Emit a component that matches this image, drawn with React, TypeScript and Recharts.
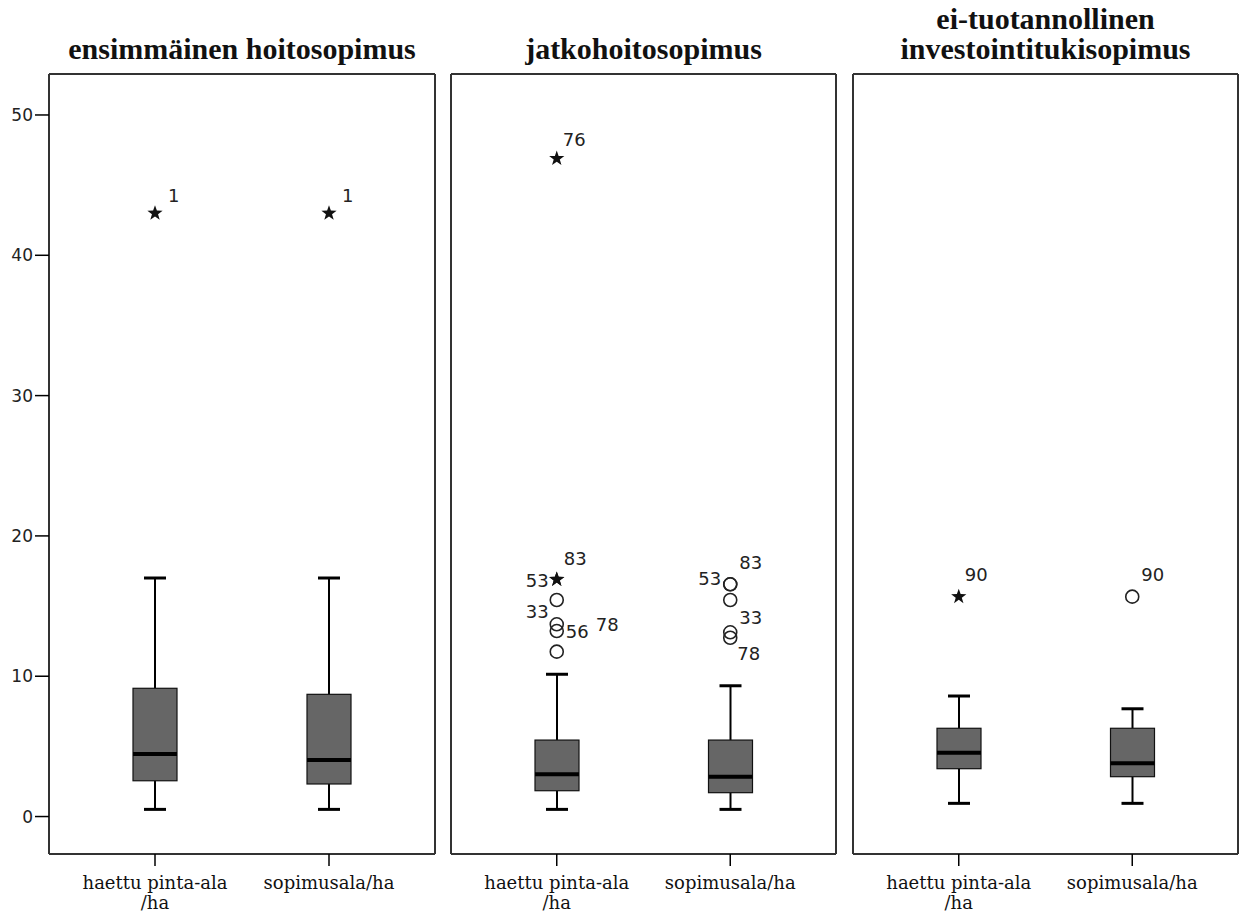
import React from "react";
import { ComposedChart, Bar, Scatter, XAxis, YAxis } from "recharts";

// ---- data ----
const panelTitles = [
  ["ensimmäinen hoitosopimus"],
  ["jatkohoitosopimus"],
  ["ei-tuotannollinen", "investointitukisopimus"],
];
const categories = ["haettu", "sopimus"];
const categoryLabels: Record<string, string[]> = {
  haettu: ["haettu pinta-ala", "/ha"],
  sopimus: ["sopimusala/ha"],
};
const yTicks = [0, 10, 20, 30, 40, 50];

// per panel, per category
const whiskerLow = [[0.51, 0.51], [0.51, 0.51], [0.94, 0.94]];
const quartile1 = [[2.55, 2.32], [1.84, 1.7], [3.41, 2.84]];
const median = [[4.45, 4.03], [3.01, 2.84], [4.55, 3.79]];
const quartile3 = [[9.14, 8.71], [5.45, 5.45], [6.29, 6.29]];
const whiskerHigh = [[17.0, 17.0], [10.14, 9.32], [8.59, 7.68]];

type Outlier = { cat: string; value: number; caseId: string; extreme: boolean };

const outliersFirst: Outlier[] = [
  { cat: "haettu", value: 43.0, caseId: "1", extreme: true },
  { cat: "sopimus", value: 43.0, caseId: "1", extreme: true },
];
const outliersJatko: Outlier[] = [
  { cat: "haettu", value: 46.9, caseId: "76", extreme: true },
  { cat: "haettu", value: 16.9, caseId: "83", extreme: true },
  { cat: "haettu", value: 16.9, caseId: "53", extreme: true },
  { cat: "haettu", value: 15.43, caseId: "33", extreme: false },
  { cat: "haettu", value: 13.7, caseId: "78", extreme: false },
  { cat: "haettu", value: 13.22, caseId: "56", extreme: false },
  { cat: "haettu", value: 11.75, caseId: "", extreme: false },
  { cat: "sopimus", value: 16.55, caseId: "83", extreme: false },
  { cat: "sopimus", value: 16.55, caseId: "53", extreme: false },
  { cat: "sopimus", value: 15.43, caseId: "33", extreme: false },
  { cat: "sopimus", value: 13.13, caseId: "", extreme: false },
  { cat: "sopimus", value: 12.74, caseId: "78", extreme: false },
];
const outliersInvest: Outlier[] = [
  { cat: "haettu", value: 15.67, caseId: "90", extreme: true },
  { cat: "sopimus", value: 15.67, caseId: "90", extreme: false },
];
const outliers = [outliersFirst, outliersJatko, outliersInvest];

// ---- styling / layout ----
const Y_DOMAIN: [number, number] = [-2.67, 52.92];
const FRAME = "#333";
const BOX_FILL = "#666666";

// label placement next to each outlier (dx, dy, anchor)
const labelOffsets: Record<string, [number, number, "start" | "end"]> = {
  "0:haettu:1": [13, -18, "start"],
  "0:sopimus:1": [13, -18, "start"],
  "1:haettu:76": [6, -19, "start"],
  "1:haettu:83": [7, -21, "start"],
  "1:haettu:53": [-8, 1, "end"],
  "1:haettu:33": [-8, 11, "end"],
  "1:haettu:78": [39, 0, "start"],
  "1:haettu:56": [9, 0, "start"],
  "1:sopimus:83": [9, -22, "start"],
  "1:sopimus:53": [-9, -6, "end"],
  "1:sopimus:33": [9, 17, "start"],
  "1:sopimus:78": [7, 16, "start"],
  "2:haettu:90": [6, -22, "start"],
  "2:sopimus:90": [9, -22, "start"],
};

const panels = [
  { left: 0, width: 445, yAxisWidth: 49, right: 9, center: 242 },
  { left: 441, width: 404, yAxisWidth: 10, right: 8, center: 643.5 },
  { left: 843, width: 403, yAxisWidth: 10, right: 7, center: 1045.5 },
];

const BoxShape = (props: any) => {
  const { x, y, width, height, payload } = props;
  const top = Math.min(y, y + height);
  const bot = Math.max(y, y + height);
  const px = (v: number) =>
    top + ((bot - top) * (payload.high - v)) / (payload.high - payload.low);
  const cx = x + width / 2;
  const cap = 11;
  return (
    <g>
      <line x1={cx} x2={cx} y1={px(payload.high)} y2={px(payload.q3)} stroke="#000" strokeWidth={2} />
      <line x1={cx} x2={cx} y1={px(payload.q1)} y2={px(payload.low)} stroke="#000" strokeWidth={2} />
      <line x1={cx - cap} x2={cx + cap} y1={px(payload.high)} y2={px(payload.high)} stroke="#000" strokeWidth={3} />
      <line x1={cx - cap} x2={cx + cap} y1={px(payload.low)} y2={px(payload.low)} stroke="#000" strokeWidth={3} />
      <rect
        x={x}
        y={px(payload.q3)}
        width={width}
        height={px(payload.q1) - px(payload.q3)}
        fill={BOX_FILL}
        stroke="#111"
        strokeWidth={1.2}
      />
      <line x1={x} x2={x + width} y1={px(payload.med)} y2={px(payload.med)} stroke="#000" strokeWidth={4} />
    </g>
  );
};

const starPoints = (cx: number, cy: number, ro: number, ri: number) => {
  const pts: string[] = [];
  for (let i = 0; i < 10; i++) {
    const r = i % 2 === 0 ? ro : ri;
    const a = -Math.PI / 2 + (i * Math.PI) / 5;
    pts.push(`${cx + r * Math.cos(a)},${cy + r * Math.sin(a)}`);
  }
  return pts.join(" ");
};

const makeOutlierShape = (panelIndex: number) => (props: any) => {
  const { cx, cy, payload } = props;
  const off = labelOffsets[`${panelIndex}:${payload.cat}:${payload.caseId}`];
  return (
    <g>
      {payload.extreme ? (
        <polygon points={starPoints(cx, cy, 8, 3.2)} fill="#111" />
      ) : (
        <circle cx={cx} cy={cy} r={6.5} fill="none" stroke="#222" strokeWidth={1.6} />
      )}
      {payload.caseId && off ? (
        <text
          x={cx + off[0]}
          y={cy + off[1]}
          textAnchor={off[2]}
          dominantBaseline="central"
          fontFamily="DejaVu Sans"
          fontSize={18}
          fill="#222"
        >
          {payload.caseId}
        </text>
      ) : null}
    </g>
  );
};

const CategoryTick = (props: any) => {
  const { x, y, payload } = props;
  const lines = categoryLabels[payload.value] || [String(payload.value)];
  return (
    <g>
      {lines.map((t, i) => (
        <text
          key={i}
          x={x}
          y={y + 21 + i * 20}
          textAnchor="middle"
          fontFamily="DejaVu Serif"
          fontSize={18}
          fill="#111"
        >
          {t}
        </text>
      ))}
    </g>
  );
};

function Panel({ index }: { index: number }) {
  const p = panels[index];
  const data = categories.map((cat, c) => ({
    cat,
    low: whiskerLow[index][c],
    q1: quartile1[index][c],
    med: median[index][c],
    q3: quartile3[index][c],
    high: whiskerHigh[index][c],
  }));
  return (
    <div style={{ position: "absolute", left: p.left, top: 0 }}>
      <ComposedChart
        width={p.width}
        height={914}
        data={data}
        margin={{ top: 73, right: p.right, bottom: 0, left: 0 }}
      >
        <XAxis
          dataKey="cat"
          type="category"
          allowDuplicatedCategory={false}
          padding={{ left: 19, right: 19 }}
          height={60}
          axisLine={{ stroke: FRAME, strokeWidth: 2 }}
          tickLine={{ stroke: "#000", strokeWidth: 1.5 }}
          tickSize={12}
          tickMargin={2}
          tick={<CategoryTick />}
          interval={0}
        />
        <XAxis
          xAxisId="top"
          dataKey="cat"
          orientation="top"
          height={1}
          tick={false}
          tickLine={false}
          axisLine={{ stroke: FRAME, strokeWidth: 2 }}
        />
        <YAxis
          type="number"
          domain={Y_DOMAIN}
          allowDataOverflow
          ticks={index === 0 ? yTicks : []}
          width={p.yAxisWidth}
          axisLine={{ stroke: FRAME, strokeWidth: 2 }}
          tickLine={index === 0 ? { stroke: "#000", strokeWidth: 1.5 } : false}
          tick={
            index === 0
              ? { fontFamily: "DejaVu Sans", fontSize: 17, fill: "#222" }
              : false
          }
          tickSize={14}
          tickMargin={2}
        />
        <YAxis
          yAxisId="right"
          orientation="right"
          type="number"
          domain={Y_DOMAIN}
          allowDataOverflow
          width={1}
          tick={false}
          tickLine={false}
          axisLine={{ stroke: FRAME, strokeWidth: 2 }}
        />
        <Bar
          dataKey={(d: any) => [d.low, d.high]}
          barSize={44}
          shape={BoxShape}
          isAnimationActive={false}
        />
        <Scatter
          data={outliers[index]}
          dataKey="value"
          shape={makeOutlierShape(index)}
          isAnimationActive={false}
        />
      </ComposedChart>
    </div>
  );
}

export default function App() {
  return (
    <div
      style={{
        position: "absolute",
        left: 0,
        top: 0,
        width: 1246,
        height: 914,
        background: "#fff",
      }}
    >
      {panels.map((_, i) => (
        <Panel key={i} index={i} />
      ))}
      <svg
        width={1246}
        height={914}
        style={{ position: "absolute", left: 0, top: 0, pointerEvents: "none" }}
      >
        {panelTitles.map((lines, i) =>
          lines.map((t, j) => (
            <text
              key={`${i}-${j}`}
              x={panels[i].center}
              y={59 - (lines.length - 1 - j) * 30}
              textAnchor="middle"
              fontFamily="Liberation Serif"
              fontWeight="bold"
              fontSize={30}
              fill="#111"
            >
              {t}
            </text>
          ))
        )}
      </svg>
    </div>
  );
}
